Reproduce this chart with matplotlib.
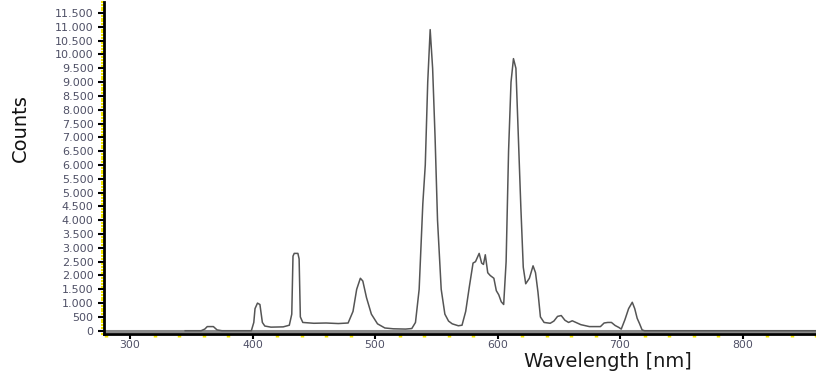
import matplotlib
matplotlib.use("Agg")
import matplotlib.pyplot as plt
from matplotlib.ticker import MultipleLocator, FuncFormatter

# spectrum (wavelength in nm, counts)
wavelength = [345, 358, 361, 363, 368, 371, 375, 399, 401, 402, 404, 406, 408, 410,
              415, 425, 430, 432, 433, 434, 437, 438, 439, 441, 450, 460, 470, 478,
              482, 485, 488, 490, 493, 497, 502, 508, 515, 525, 530, 533, 536, 539,
              541, 543, 545, 547, 549, 551, 554, 557, 560, 563, 568, 571, 574, 577,
              580, 582, 585, 587, 588.5, 590, 592, 594, 597, 599, 601, 603, 605, 607,
              609, 611, 613, 615, 617, 619, 621, 623, 626, 629, 631, 633, 635, 638,
              643, 646, 649, 652, 655, 658, 661, 664, 668, 675, 684, 687, 690, 693,
              696, 699, 701, 704, 707, 710, 712, 714, 716, 718, 720, 860]
counts = [0, 0, 60, 150, 150, 30, 0, 0, 300, 800, 1000, 950, 300, 170,
          130, 140, 200, 600, 2700, 2800, 2800, 2600, 500, 300, 270, 280, 260, 280,
          700, 1500, 1900, 1800, 1200, 600, 250, 100, 70, 60, 80, 300, 1500, 4600,
          6000, 9000, 10900, 9500, 7000, 4000, 1500, 600, 350, 250, 180, 200, 700, 1600,
          2450, 2500, 2800, 2450, 2400, 2750, 2100, 2000, 1900, 1450, 1300, 1050, 950, 2500,
          6500, 9000, 9850, 9500, 7000, 4500, 2300, 1700, 1900, 2350, 2100, 1400, 500, 300,
          270, 350, 520, 550, 380, 300, 360, 300, 220, 150, 150, 280, 300, 300,
          190, 120, 60, 400, 800, 1030, 800, 450, 250, 30, 0, 0]

x_major = [300, 400, 500, 600, 700, 800]
label_color = "#4f5066"

fig = plt.figure(figsize=(8.16, 3.72), dpi=100)
ax = fig.add_axes([104 / 816, 1 - 333.5 / 372, 1 - 104 / 816, (333.5 - 2) / 372])

ax.axhline(0, color="#8a8a8a", lw=2.2, zorder=1)
ax.plot(wavelength, counts, color="#555555", lw=1.1, zorder=2)

ax.set_xlim(278.7, 860)
ax.set_ylim(-100, 11900)

for s in ["top", "right"]:
    ax.spines[s].set_visible(False)
ax.spines["left"].set_linewidth(2)
ax.spines["bottom"].set_linewidth(2)

ax.set_xticks(x_major)
ax.xaxis.set_minor_locator(MultipleLocator(20))
ax.yaxis.set_major_locator(MultipleLocator(500))
ax.yaxis.set_minor_locator(MultipleLocator(100))
ax.yaxis.set_major_formatter(FuncFormatter(lambda v, p: f"{int(v):,}".replace(",", ".")))

ax.tick_params(axis="both", which="major", color="black", width=1.5, length=4,
               labelcolor=label_color, labelsize=8)
ax.tick_params(axis="x", which="major", length=3.5, pad=1.2, labelsize=7.8)
ax.tick_params(axis="y", which="minor", color="#f2e600", width=1.5, length=2.5)
ax.tick_params(axis="x", which="minor", color="#f2e600", width=2.5, length=2.5)

fig.text(20 / 816, 1 - 128 / 372, "Counts", rotation=90, ha="center", va="center",
         fontsize=14, family=["Liberation Sans Narrow", "DejaVu Sans Condensed", "DejaVu Sans"],
         color="#111111")
fig.text(608 / 816, 1 - 361.5 / 372, "Wavelength [nm]", ha="center", va="center",
         fontsize=14, family=["DejaVu Sans"], color="#1a1a1a")

fig.savefig("out.png", dpi=100)
